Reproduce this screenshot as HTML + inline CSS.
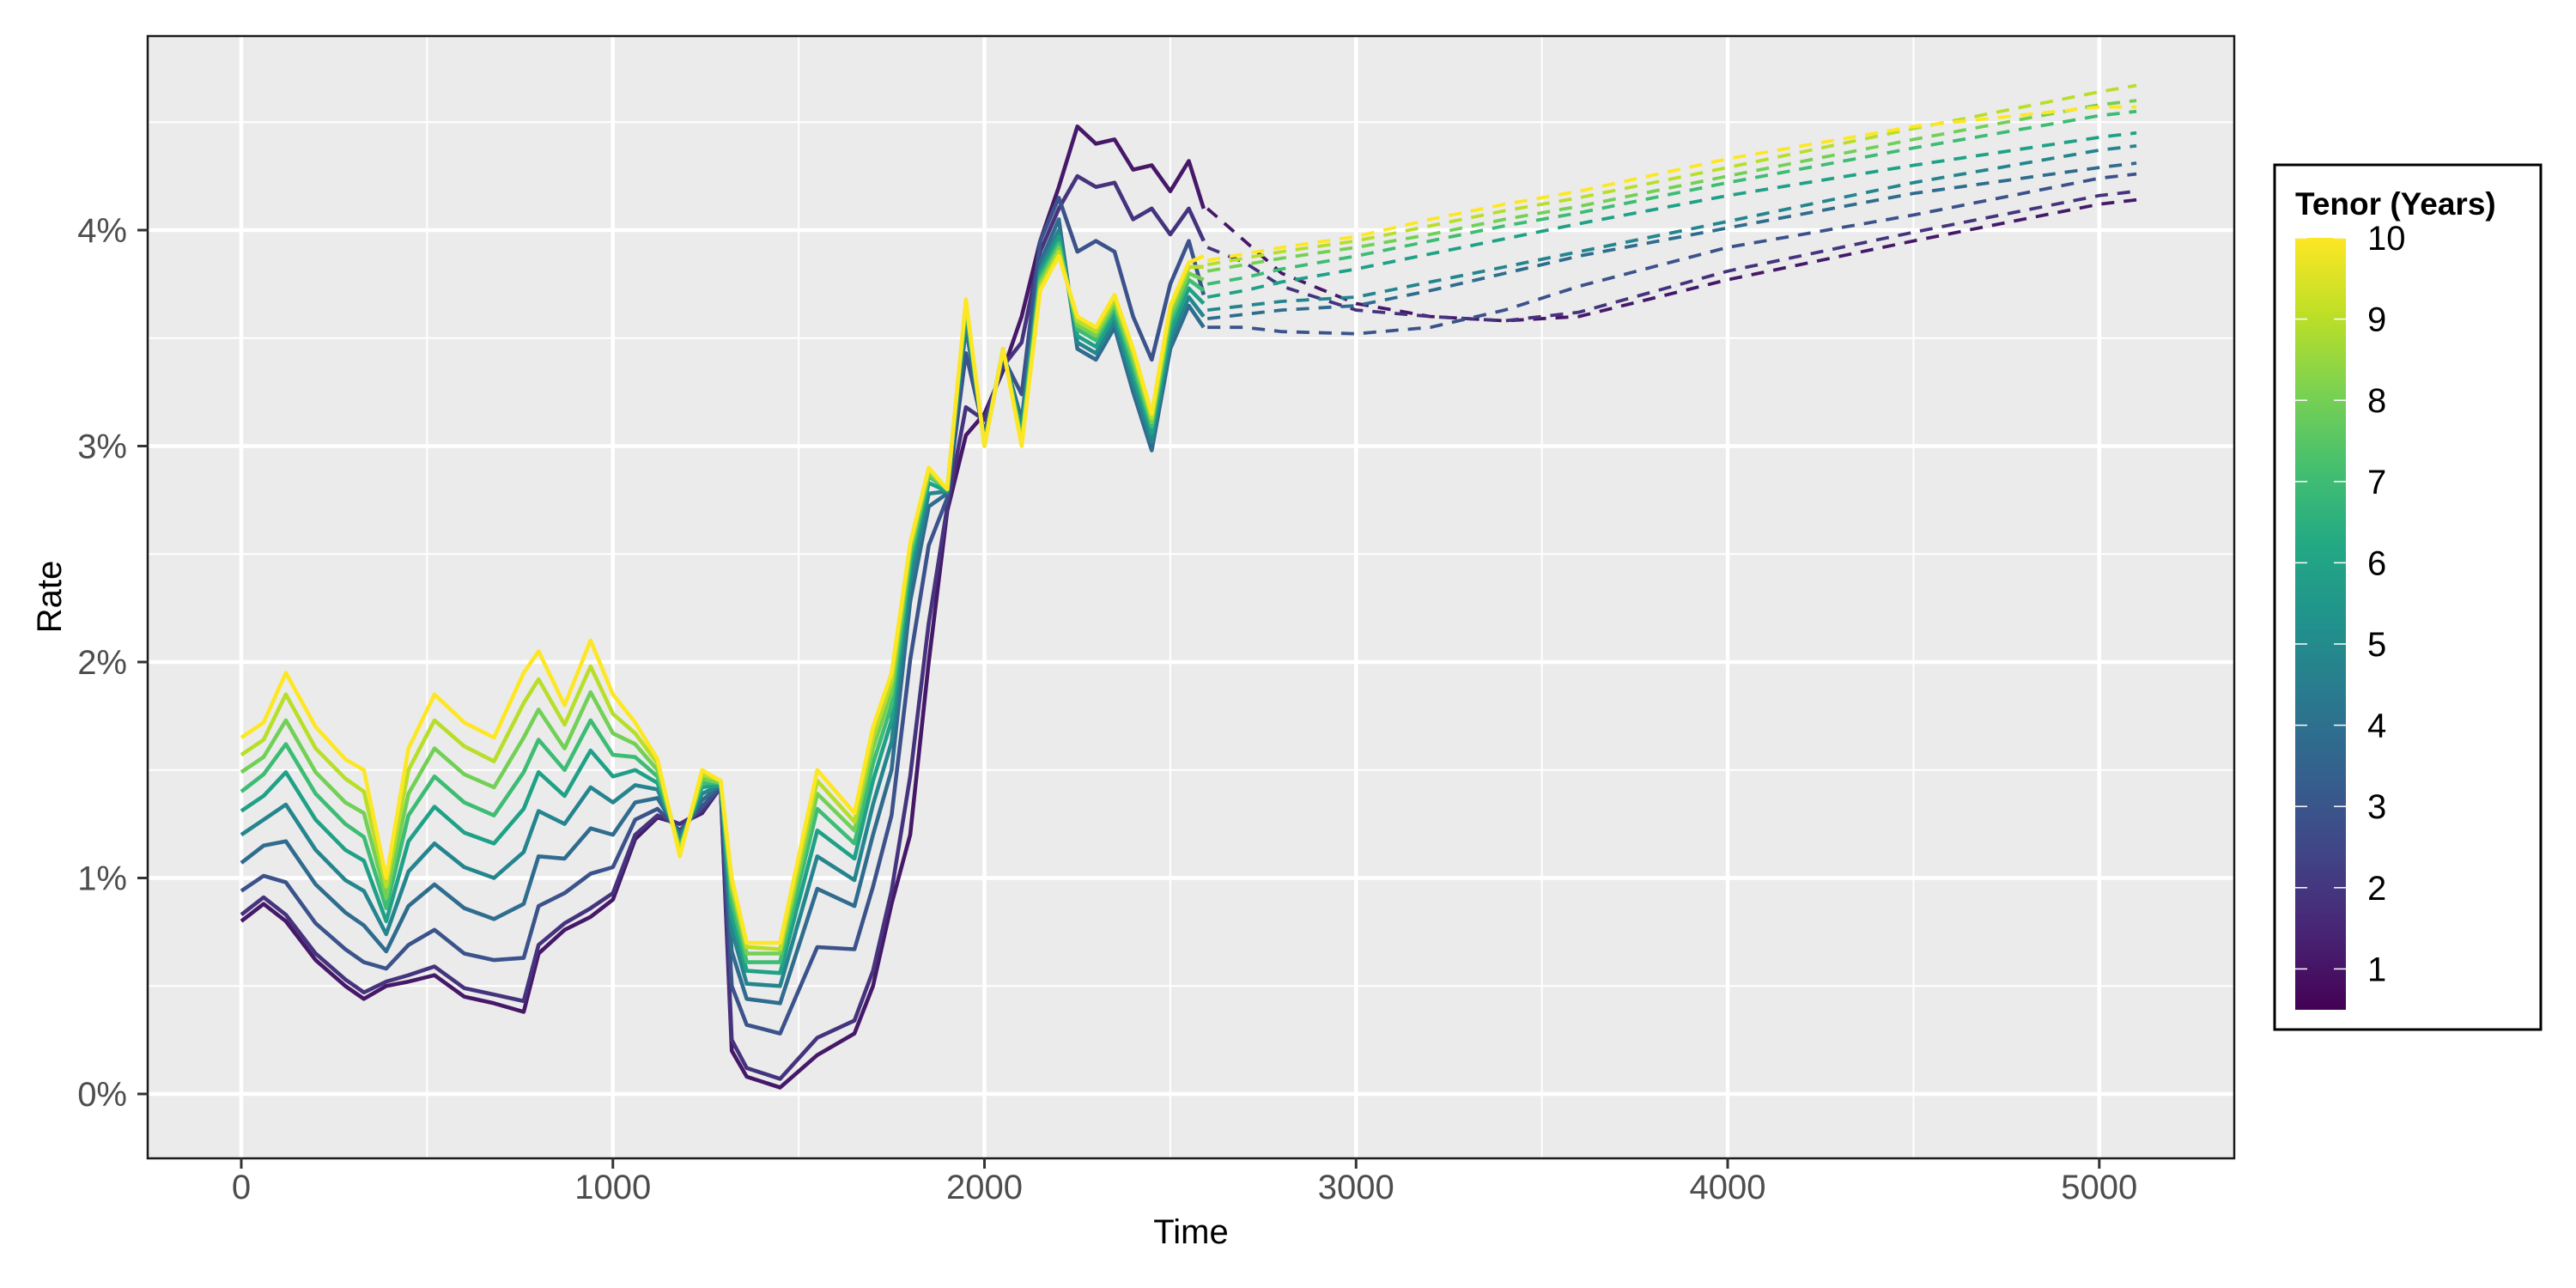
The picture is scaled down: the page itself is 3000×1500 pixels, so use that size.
<!DOCTYPE html>
<html><head><meta charset="utf-8"><style>
html,body{margin:0;padding:0;background:#fff;}
svg{display:block;font-family:"Liberation Sans",sans-serif;}
</style></head><body>
<svg id="chart" width="3000" height="1500" viewBox="0 0 3000 1500" xmlns="http://www.w3.org/2000/svg">
<defs><linearGradient id="vir" x1="0" y1="1" x2="0" y2="0">
<stop offset="0" stop-color="#440154"/><stop offset="0.1" stop-color="#482475"/><stop offset="0.2" stop-color="#414487"/><stop offset="0.3" stop-color="#355f8d"/><stop offset="0.4" stop-color="#2a788e"/><stop offset="0.5" stop-color="#21918c"/><stop offset="0.6" stop-color="#22a884"/><stop offset="0.7" stop-color="#44bf70"/><stop offset="0.8" stop-color="#7ad151"/><stop offset="0.9" stop-color="#bddf26"/><stop offset="1" stop-color="#fde725"/>
</linearGradient>
<clipPath id="pc"><rect x="172" y="42" width="2430" height="1307"/></clipPath></defs>
<rect x="172" y="42" width="2430" height="1307" fill="#ebebeb"/>
<g id="grid"></g>
<g id="series" clip-path="url(#pc)"></g>
<rect x="172" y="42" width="2430" height="1307" fill="none" stroke="#1a1a1a" stroke-width="2.5"/>
<g id="axes"></g>
<text x="1387" y="1448" font-size="40" text-anchor="middle" fill="#000">Time</text>
<text x="0" y="0" font-size="40" text-anchor="middle" fill="#000" transform="translate(71,695) rotate(-90)">Rate</text>
<g>
<rect x="2649" y="192" width="310" height="1007" fill="#fff" stroke="#000" stroke-width="3"/>
<text x="2673" y="250" font-size="37" font-weight="bold" fill="#000">Tenor (Years)</text>
<rect x="2673" y="277" width="59" height="899" fill="url(#vir)"/>
<g id="legend-ticks"></g>
</g>
</svg>
<script>
const times = [0,60,120,200,280,330,390,450,520,600,680,760,800,870,940,1000,1060,1120,1180,1240,1290,1320,1360,1450,1550,1650,1700,1750,1800,1850,1900,1950,2000,2050,2100,2150,2200,2250,2300,2350,2400,2450,2500,2550,2590];
const r1 = [0.80,0.88,0.80,0.62,0.50,0.44,0.50,0.52,0.55,0.45,0.42,0.38,0.65,0.76,0.82,0.90,1.18,1.28,1.25,1.30,1.42,0.20,0.08,0.03,0.18,0.28,0.50,0.88,1.20,2.00,2.70,3.05,3.15,3.35,3.60,3.95,4.20,4.48,4.40,4.42,4.28,4.30,4.18,4.32,4.10];
const r2 = [0.83,0.91,0.83,0.65,0.53,0.47,0.52,0.55,0.59,0.49,0.46,0.43,0.69,0.79,0.86,0.93,1.20,1.29,1.25,1.31,1.42,0.25,0.12,0.07,0.26,0.34,0.57,0.94,1.47,2.18,2.72,3.18,3.12,3.37,3.48,3.90,4.10,4.25,4.20,4.22,4.05,4.10,3.98,4.10,3.95];
const r3 = [0.94,1.01,0.98,0.79,0.67,0.61,0.58,0.69,0.76,0.65,0.62,0.63,0.87,0.93,1.02,1.05,1.27,1.32,1.22,1.33,1.42,0.50,0.32,0.28,0.68,0.67,0.96,1.29,2.01,2.54,2.76,3.43,3.06,3.41,3.24,3.95,4.15,3.90,3.95,3.90,3.60,3.40,3.75,3.95,3.70];
const r4 = [1.07,1.15,1.17,0.97,0.84,0.78,0.66,0.87,0.97,0.86,0.81,0.88,1.10,1.09,1.23,1.20,1.35,1.37,1.20,1.36,1.43,0.66,0.44,0.42,0.95,0.87,1.20,1.50,2.28,2.72,2.78,3.55,3.03,3.43,3.12,3.85,4.05,3.45,3.40,3.55,3.25,2.98,3.45,3.65,3.55];
const r5 = [1.20,1.27,1.34,1.13,0.99,0.94,0.74,1.03,1.16,1.05,1.00,1.12,1.31,1.25,1.42,1.35,1.43,1.41,1.18,1.39,1.43,0.76,0.51,0.50,1.10,0.99,1.34,1.63,2.37,2.78,2.79,3.60,3.02,3.44,3.08,3.82,4.00,3.48,3.43,3.58,3.29,3.02,3.49,3.69,3.60];
const r6 = [1.31,1.38,1.49,1.27,1.13,1.08,0.80,1.17,1.33,1.21,1.16,1.32,1.49,1.38,1.59,1.47,1.50,1.44,1.16,1.42,1.43,0.83,0.57,0.56,1.22,1.09,1.45,1.73,2.44,2.83,2.79,3.63,3.01,3.44,3.05,3.80,3.97,3.51,3.46,3.61,3.33,3.06,3.53,3.73,3.66];
const r7 = [1.40,1.48,1.62,1.39,1.25,1.19,0.86,1.29,1.47,1.35,1.29,1.49,1.64,1.50,1.73,1.57,1.56,1.47,1.14,1.44,1.44,0.89,0.61,0.61,1.32,1.16,1.53,1.80,2.48,2.86,2.80,3.65,3.01,3.45,3.03,3.78,3.94,3.54,3.49,3.64,3.37,3.09,3.57,3.77,3.72];
const r8 = [1.49,1.56,1.73,1.49,1.35,1.30,0.91,1.39,1.60,1.48,1.42,1.65,1.78,1.60,1.86,1.67,1.62,1.50,1.13,1.46,1.44,0.94,0.65,0.65,1.39,1.22,1.60,1.86,2.51,2.87,2.80,3.66,3.00,3.45,3.02,3.76,3.92,3.56,3.51,3.66,3.40,3.11,3.60,3.80,3.77];
const r9 = [1.57,1.64,1.85,1.60,1.46,1.40,0.96,1.50,1.73,1.61,1.54,1.81,1.92,1.71,1.98,1.76,1.67,1.53,1.12,1.48,1.45,0.97,0.68,0.67,1.45,1.26,1.65,1.91,2.54,2.89,2.80,3.67,3.00,3.45,3.01,3.74,3.90,3.58,3.53,3.68,3.43,3.13,3.63,3.83,3.83];
const r10 = [1.65,1.72,1.95,1.70,1.55,1.50,1.00,1.60,1.85,1.72,1.65,1.95,2.05,1.80,2.10,1.85,1.72,1.55,1.10,1.50,1.45,1.00,0.70,0.70,1.50,1.30,1.70,1.95,2.55,2.90,2.80,3.68,3.00,3.45,3.00,3.72,3.88,3.60,3.55,3.70,3.45,3.15,3.65,3.85,3.88];

const ftimes = [2600,2700,2800,3000,3200,3400,3600,4000,4500,5000,5100];
const f1 = [4.10,3.95,3.80,3.66,3.60,3.58,3.60,3.77,3.95,4.12,4.14];
const f2 = [3.92,3.85,3.74,3.63,3.60,3.58,3.62,3.81,3.99,4.16,4.18];
const f3 = [3.55,3.55,3.53,3.52,3.55,3.63,3.74,3.92,4.07,4.24,4.26];
const f4 = [3.59,3.61,3.63,3.65,3.72,3.80,3.88,4.01,4.17,4.29,4.31];
const f5 = [3.63,3.65,3.67,3.69,3.76,3.83,3.90,4.04,4.22,4.37,4.39];
const f6 = [3.69,3.72,3.76,3.82,3.89,3.96,4.03,4.16,4.30,4.43,4.45];
const f7 = [3.75,3.78,3.82,3.88,3.95,4.02,4.08,4.22,4.38,4.53,4.55];
const f8 = [3.81,3.84,3.87,3.92,3.98,4.05,4.11,4.25,4.42,4.58,4.60];
const f9 = [3.84,3.87,3.90,3.95,4.02,4.09,4.15,4.29,4.47,4.64,4.67];
const f10 = [3.86,3.89,3.92,3.97,4.05,4.12,4.18,4.33,4.48,4.57,4.57];

const tenors = [1,2,3,4,5,6,7,8,9,10];
const xTicks = [0,1000,2000,3000,4000,5000];
const yTicks = [0,1,2,3,4];
const yTickLabels = ["0%","1%","2%","3%","4%"];
const legendTicks = [1,2,3,4,5,6,7,8,9,10];

const hist = [r1,r2,r3,r4,r5,r6,r7,r8,r9,r10];
const fc = [f1,f2,f3,f4,f5,f6,f7,f8,f9,f10];
const colors = ["#461868","#46337e","#3b528b","#2f6c8e","#25858e","#1fa187","#3dbc74","#73d056","#b8de29","#fde725"];

const NS = "http://www.w3.org/2000/svg";
function xS(t){ return 281 + t*0.43276; }
function yS(v){ return 1274 - v*251.5; }
function legY(k){ return 277 + (10-k)*94.6; }
function mk(tag, attrs, parent){
  const e = document.createElementNS(NS, tag);
  for (const k in attrs) e.setAttribute(k, attrs[k]);
  parent.appendChild(e); return e;
}
const grid = document.getElementById('grid');
for (let t=500; t<=5000; t+=1000){
  const l = mk('line',{x1:xS(t),x2:xS(t),y1:42,y2:1349,stroke:'#fff','stroke-width':2},grid);
  
  
}
for (let v=0.5; v<=4.5; v+=1){
  const l = mk('line',{x1:172,x2:2602,y1:yS(v),y2:yS(v),stroke:'#fff','stroke-width':2},grid);
  
  
}
xTicks.forEach(t=>{
  const l = mk('line',{x1:xS(t),x2:xS(t),y1:42,y2:1349,stroke:'#fff','stroke-width':4.5},grid);
  
  
});
yTicks.forEach(v=>{
  const l = mk('line',{x1:172,x2:2602,y1:yS(v),y2:yS(v),stroke:'#fff','stroke-width':4.5},grid);
  
  
});
const series = document.getElementById('series');
hist.forEach((arr,i)=>{
  const d = arr.map((v,j)=>(j?'L':'M')+xS(times[j]).toFixed(1)+' '+yS(v).toFixed(1)).join(' ');
  const p = mk('path',{d:d,fill:'none',stroke:colors[i],'stroke-width':4.6,'stroke-linejoin':'round'},series);
  
  
});
fc.forEach((arr,i)=>{
  const d = arr.map((v,j)=>(j?'L':'M')+xS(ftimes[j]).toFixed(1)+' '+yS(v).toFixed(1)).join(' ');
  const p = mk('path',{d:d,fill:'none',stroke:colors[i],'stroke-width':3.8,'stroke-dasharray':'15 11'},series);
  
  
});
const axes = document.getElementById('axes');
xTicks.forEach(t=>{
  const l = mk('line',{x1:xS(t),x2:xS(t),y1:1349,y2:1361,stroke:'#333','stroke-width':3},axes);
  
  
  const tx = mk('text',{x:xS(t),y:1396,'font-size':40,'text-anchor':'middle',fill:'#4d4d4d'},axes);
  tx.textContent = String(t);
  
  
});
yTicks.forEach((v,i)=>{
  const l = mk('line',{x1:160,x2:172,y1:yS(v),y2:yS(v),stroke:'#333','stroke-width':3},axes);
  
  
  const tx = mk('text',{x:148,y:yS(v)+14,'font-size':40,'text-anchor':'end',fill:'#4d4d4d'},axes);
  tx.textContent = yTickLabels[i];
  
  
});
const lt = document.getElementById('legend-ticks');
legendTicks.forEach(k=>{
  const y = legY(k);
  const a = mk('line',{x1:2673,x2:2687,y1:y,y2:y,stroke:'#fff','stroke-width':1.5},lt);
  
  
  const b = mk('line',{x1:2718,x2:2732,y1:y,y2:y,stroke:'#fff','stroke-width':1.5},lt);
  
  
  const tx = mk('text',{x:2757,y:y+14,'font-size':40,fill:'#000'},lt);
  tx.textContent = String(k);
  
  
});
</script>
</body></html>
